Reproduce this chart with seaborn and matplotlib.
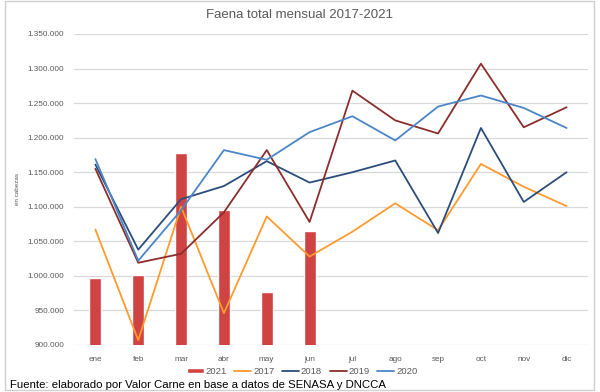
import matplotlib
matplotlib.use("Agg")
import matplotlib.pyplot as plt
import matplotlib.ticker as mticker
import numpy as np
import pandas as pd
import seaborn as sns

meses = ["ene", "feb", "mar", "abr", "may", "jun", "jul", "ago", "sep", "oct", "nov", "dic"]

faena_2021 = [997000, 1002000, 1178000, 1095000, 977000, 1065000, None, None, None, None, None, None]
faena_2017 = [1067000, 907000, 1100000, 946000, 1086000, 1028000, 1064000, 1105000, 1066000, 1162000, 1129000, 1101000]
faena_2018 = [1161000, 1038000, 1111000, 1130000, 1166000, 1135000, 1150000, 1167000, 1062000, 1214000, 1107000, 1150000]
faena_2019 = [1155000, 1019000, 1032000, 1092000, 1182000, 1078000, 1268000, 1225000, 1206000, 1307000, 1215000, 1244000]
faena_2020 = [1169000, 1022000, 1095000, 1182000, 1168000, 1208000, 1231000, 1196000, 1245000, 1261000, 1243000, 1214000]

anios_lineas = ["2017", "2018", "2019", "2020"]
colores = {"2017": "#ff9a2e", "2018": "#2c4d7c", "2019": "#8c2d2d", "2020": "#4a86c8"}
color_2021 = "#d04343"

df_bar = pd.DataFrame({"mes": meses, "valor": faena_2021})

df_lin = pd.DataFrame({
    "mes": meses * 4,
    "valor": faena_2017 + faena_2018 + faena_2019 + faena_2020,
    "año": [a for a in anios_lineas for _ in meses],
})
df_lin["pos"] = df_lin["mes"].map({m: i for i, m in enumerate(meses)})

sns.set_theme(style="white")
plt.rcParams["font.family"] = ["Liberation Sans", "DejaVu Sans"]

fig = plt.figure(figsize=(6, 3.92), dpi=100)
ax = fig.add_axes([74 / 600, 1 - 345 / 392, (588 - 74) / 600, (345 - 34) / 392])

sns.barplot(data=df_bar, x="mes", y="valor", order=meses, color=color_2021,
            saturation=1, width=0.28, label="2021", ax=ax)
sns.lineplot(data=df_lin, x="pos", y="valor", hue="año", hue_order=anios_lineas,
             palette=colores, linewidth=1.3, ax=ax)

ax.set_ylim(900000, 1350000)
ax.set_xlim(-0.5, 11.5)
ax.yaxis.set_major_locator(mticker.MultipleLocator(50000))
ax.yaxis.set_major_formatter(mticker.FuncFormatter(lambda v, p: f"{v:,.0f}".replace(",", ".")))
ax.set_xticks(range(len(meses)))
ax.set_xticklabels(meses)
ax.grid(axis="y", color="#d9d9d9", linewidth=0.9)
ax.set_axisbelow(True)
for s in ax.spines.values():
    s.set_visible(False)
ax.tick_params(axis="both", length=0, labelsize=5.9, colors="#595959")
ax.tick_params(axis="y", pad=7)
ax.tick_params(axis="x", pad=8)
ax.set_xlabel("")
ax.set_ylabel("en cabezas", fontsize=4.5, color="#595959")
ax.yaxis.set_label_coords(-0.105, 0.5)

fig.text(0.5, 1 - 15 / 392, "Faena total mensual 2017-2021", fontsize=9.5,
         color="#595959", ha="center", va="center")

handles, labels = ax.get_legend_handles_labels()
if ax.legend_:
    ax.legend_.remove()
orden = ["2021"] + anios_lineas
hmap = dict(zip(labels, handles))
fig.legend([hmap[k] for k in orden], orden, loc="center", bbox_to_anchor=(302 / 600, 1 - 371.5 / 392),
           ncol=5, frameon=False, fontsize=6.8, labelcolor="#595959", borderpad=0.1,
           handlelength=1.8, handleheight=0.5, handletextpad=0.2, columnspacing=0.8)

# marco del gráfico
fig.patches.append(plt.Rectangle((5 / 600, 1 - 390 / 392), 589 / 600, 389 / 392,
                                 transform=fig.transFigure, fill=False,
                                 edgecolor="#d0d0d0", linewidth=1))

fig.text(10 / 600, 1 - 384.5 / 392, "Fuente: elaborado por Valor Carne en base a datos de SENASA y DNCCA",
         fontsize=8.2, color="black", va="center", ha="left")

fig.savefig("out.png", dpi=100)
